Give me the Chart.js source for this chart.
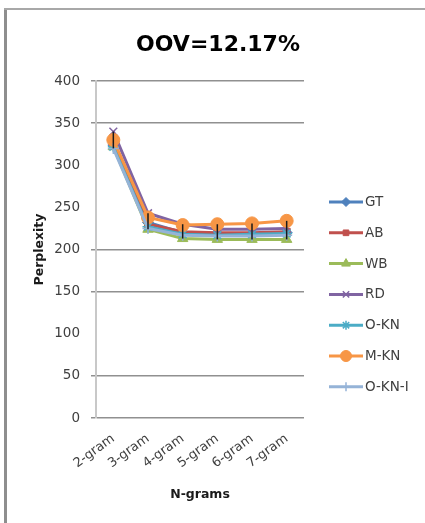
<!DOCTYPE html>
<html>
<head>
<meta charset="utf-8">
<script src="https://cdn.jsdelivr.net/npm/chart.js@4.4.1/dist/chart.umd.min.js"></script>
<style>
  html, body { margin: 0; padding: 0; background: #ffffff; overflow: hidden; width: 425px; height: 523px; }
  #chart { display: block; }
</style>
</head>
<body>
<canvas id="chart" width="425" height="523"></canvas>
<script>
// N-gram orders on the x axis
const categories = ['2-gram', '3-gram', '4-gram', '5-gram', '6-gram', '7-gram'];

// Perplexity per smoothing method
const gt    = [324, 232, 220, 218, 219, 220];
const ab    = [323, 230, 221, 220, 220, 221];
const wb    = [322, 224, 213, 212, 212, 212];
const rd    = [340, 243, 230, 224, 224, 225];
const okn   = [322, 227, 218, 217, 218, 219];
const mkn   = [330, 238, 229, 230, 231, 234];
const okni  = [320, 225, 217, 216, 216, 217];

const seriesNames = ['GT', 'AB', 'WB', 'RD', 'O-KN', 'M-KN', 'O-KN-I'];
const chartTitle = 'OOV=12.17%';
const xTitle = 'N-grams';
const yTitle = 'Perplexity';

const seriesValues = [gt, ab, wb, rd, okn, mkn, okni];
const colors = ['#4F81BD', '#C0504D', '#9BBB59', '#8064A2', '#4BACC6', '#F79646', '#95B3D7'];
const markers = ['rectRot', 'rect', 'triangle', 'crossRot', 'star', 'circle', 'cross'];
const markerSize = [5.5, 5, 6, 5.5, 5.5, 6.5, 5.5];

const FONT = "'DejaVu Sans', 'Liberation Sans', sans-serif";
const shownGrid = [0, 50, 150, 200, 350, 400];

const datasets = seriesValues.map((vals, i) => ({
  label: seriesNames[i],
  data: vals,
  borderColor: colors[i],
  backgroundColor: colors[i],
  borderWidth: 3,
  pointStyle: markers[i],
  pointRadius: markerSize[i],
  pointBorderWidth: (markers[i] === 'crossRot' || markers[i] === 'star' || markers[i] === 'cross') ? 1.5 : 1,
  pointBorderColor: colors[i],
  pointBackgroundColor: colors[i],
  tension: 0,
  order: seriesValues.length - i
}));

// Outer frame of the chart object (left and top edges)
const framePlugin = {
  id: 'frame',
  beforeDraw(chart) {
    const ctx = chart.ctx;
    ctx.save();
    ctx.fillStyle = '#ffffff';
    ctx.fillRect(0, 0, chart.width, chart.height);
    ctx.strokeStyle = '#8e8e8e';
    ctx.lineWidth = 3;
    ctx.beginPath();
    ctx.moveTo(5.5, 8);
    ctx.lineTo(5.5, chart.height);
    ctx.stroke();
    ctx.strokeStyle = '#a8a8a8';
    ctx.lineWidth = 2;
    ctx.beginPath();
    ctx.moveTo(4, 9);
    ctx.lineTo(chart.width + 5, 9);
    ctx.stroke();
    ctx.restore();
  }
};

// Vertical high-low line at each category, from the highest to the lowest series
const highLowLines = {
  id: 'highLowLines',
  afterDatasetsDraw(chart) {
    const ctx = chart.ctx;
    const xs = chart.scales.x, ys = chart.scales.y;
    ctx.save();
    ctx.strokeStyle = '#1a1a1a';
    ctx.lineWidth = 1.5;
    categories.forEach((c, k) => {
      const col = seriesValues.map(s => s[k]);
      const x = xs.getPixelForValue(k);
      ctx.beginPath();
      ctx.moveTo(x, ys.getPixelForValue(Math.max(...col)));
      ctx.lineTo(x, ys.getPixelForValue(Math.min(...col)));
      ctx.stroke();
    });
    ctx.restore();
  }
};

// Chart heading
const headingPlugin = {
  id: 'heading',
  afterDraw(chart) {
    const ctx = chart.ctx;
    ctx.save();
    ctx.font = 'bold 22px ' + FONT;
    ctx.fillStyle = '#000000';
    ctx.textAlign = 'center';
    ctx.textBaseline = 'alphabetic';
    ctx.fillText(chartTitle, 218, 51);
    ctx.restore();
  }
};

// Legend on the right: line sample with marker, then the series name
const sideLegend = {
  id: 'sideLegend',
  afterDraw(chart) {
    const ctx = chart.ctx;
    const x0 = 329, x1 = 363, top = 202, step = 30.8;
    ctx.save();
    chart.data.datasets.forEach((ds, i) => {
      const y = top + i * step;
      ctx.strokeStyle = ds.borderColor;
      ctx.lineWidth = 3;
      ctx.beginPath();
      ctx.moveTo(x0, y);
      ctx.lineTo(x1, y);
      ctx.stroke();
      ctx.fillStyle = ds.pointBackgroundColor;
      ctx.strokeStyle = ds.pointBorderColor;
      ctx.lineWidth = ds.pointBorderWidth;
      Chart.helpers.drawPoint(ctx, {
        pointStyle: ds.pointStyle, radius: ds.pointRadius - 1, rotation: 0, borderWidth: ds.pointBorderWidth
      }, (x0 + x1) / 2, y);
      ctx.fillStyle = '#404040';
      ctx.font = '13.5px ' + FONT;
      ctx.textAlign = 'left';
      ctx.textBaseline = 'middle';
      ctx.fillText(ds.label, x1 + 2, y + 0.5);
    });
    ctx.restore();
  }
};

new Chart(document.getElementById('chart'), {
  type: 'line',
  data: { labels: categories, datasets },
  plugins: [framePlugin, highLowLines, headingPlugin, sideLegend],
  options: {
    responsive: false,
    animation: false,
    layout: { padding: { left: 32, right: 121, top: 81, bottom: 20.5 } },
    plugins: {
      legend: { display: false },
      title: { display: false },
      tooltip: { enabled: false }
    },
    scales: {
      x: {
        offset: true,
        grid: { display: false },
        border: { display: false },
        ticks: {
          color: '#404040',
          font: { family: FONT, size: 13 },
          minRotation: 36,
          maxRotation: 36,
          padding: 5
        },
        title: {
          display: true, text: xTitle, color: '#1a1a1a',
          font: { family: FONT, size: 12.5, weight: 'bold' },
          padding: 0
        },
        afterFit(scale) { scale.height = 84.5; }
      },
      y: {
        min: 0,
        max: 400,
        ticks: {
          stepSize: 50,
          color: '#404040',
          font: { family: FONT, size: 13.5 },
          padding: 11
        },
        grid: {
          color: ctx => (ctx.tick && shownGrid.includes(ctx.tick.value)) ? '#909090' : 'rgba(0,0,0,0)',
          lineWidth: 1.5,
          tickLength: 5
        },
        border: { display: true, color: '#c8c8c8', width: 2 },
        title: {
          display: true, text: yTitle, color: '#1a1a1a',
          font: { family: FONT, size: 12.5, weight: 'bold' },
          padding: 0
        },
        afterFit(scale) { scale.width = 64; }
      }
    }
  }
});
</script>
</body>
</html>
